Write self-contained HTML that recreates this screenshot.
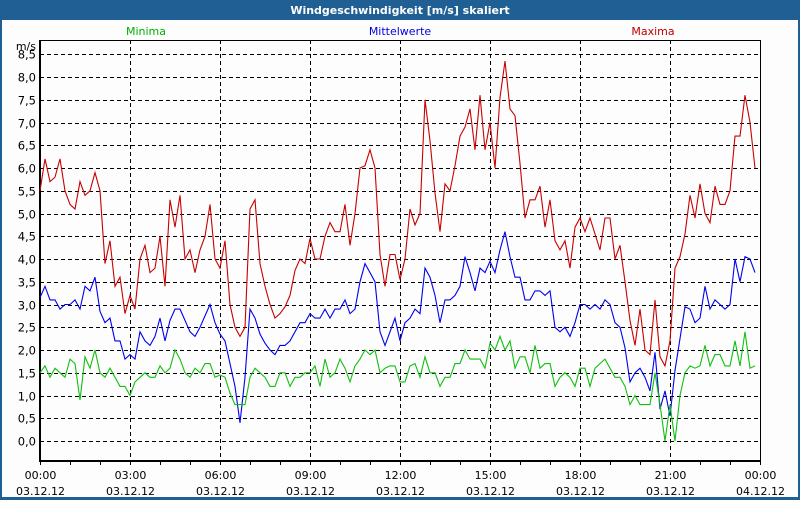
<!DOCTYPE html>
<html><head><meta charset="utf-8"><style>
body{margin:0;background:#fff;}
svg text{font-family:"DejaVu Sans","Liberation Sans",sans-serif;}
</style></head><body>
<svg id="chart" width="800" height="500" viewBox="0 0 800 500" xmlns="http://www.w3.org/2000/svg">
<rect x="0" y="0" width="800" height="500" fill="#1f5f94"/>
<rect x="2" y="20" width="796" height="477" fill="#fdfdfd"/>
<text x="400" y="14" text-anchor="middle" fill="#fff" font-size="11" font-weight="bold">Windgeschwindigkeit [m/s] skaliert</text>
<text x="146" y="35" text-anchor="middle" fill="#00b000" font-size="11">Minima</text>
<text x="400" y="35" text-anchor="middle" fill="#0000e0" font-size="11">Mittelwerte</text>
<text x="653" y="35" text-anchor="middle" fill="#c00000" font-size="11">Maxima</text>
<text x="36" y="50" text-anchor="end" fill="#000" font-size="11">m/s</text>
<g id="grid"></g>
<g id="axes"></g>
<g id="series"></g>
</svg>
<script>
const yTicks=["0,0","0,5","1,0","1,5","2,0","2,5","3,0","3,5","4,0","4,5","5,0","5,5","6,0","6,5","7,0","7,5","8,0","8,5"];
const xTickTimes=["00:00","03:00","06:00","09:00","12:00","15:00","18:00","21:00","00:00"];
const xTickDates=["03.12.12","03.12.12","03.12.12","03.12.12","03.12.12","03.12.12","03.12.12","03.12.12","04.12.12"];
const maxima=[5.5,6.2,5.7,5.8,6.2,5.5,5.2,5.1,5.7,5.4,5.5,5.9,5.5,3.9,4.4,3.4,3.6,2.8,3.2,2.9,4.0,4.3,3.7,3.8,4.5,3.4,5.3,4.7,5.4,4.0,4.2,3.7,4.2,4.5,5.2,4.0,3.8,4.4,3.0,2.5,2.3,2.5,5.1,5.3,3.9,3.4,3.0,2.7,2.8,2.95,3.2,3.75,4.0,3.9,4.45,4.0,4.0,4.5,4.8,4.6,4.6,5.2,4.3,5.0,6.0,6.05,6.4,6.0,4.1,3.4,4.1,4.1,3.55,4.0,5.1,4.75,5.0,7.5,6.6,5.45,4.6,5.65,5.5,6.05,6.7,6.9,7.3,6.4,7.6,6.4,7.0,6.0,7.55,8.35,7.3,7.15,6.1,4.9,5.3,5.3,5.6,4.7,5.3,4.4,4.2,4.4,3.8,4.7,4.9,4.6,4.9,4.55,4.2,4.9,4.9,4.0,4.3,3.5,2.65,2.1,2.9,2.0,1.9,3.1,1.85,1.65,2.2,3.8,4.05,4.55,5.4,4.9,5.65,5.0,4.8,5.6,5.2,5.2,5.5,6.7,6.7,7.6,7.0,6.0];
const mittel=[3.15,3.4,3.1,3.1,2.9,3.0,3.0,3.1,2.9,3.4,3.3,3.6,2.85,2.6,2.7,2.2,2.2,1.8,1.9,1.8,2.4,2.2,2.1,2.3,2.7,2.2,2.65,2.9,2.9,2.65,2.4,2.3,2.5,2.75,3.0,2.6,2.35,2.2,1.7,1.2,0.4,1.4,2.9,2.7,2.35,2.15,2.0,1.9,2.1,2.1,2.2,2.4,2.6,2.6,2.8,2.7,2.7,2.9,2.7,2.9,2.9,3.1,2.8,2.9,3.5,3.9,3.7,3.5,2.4,2.1,2.4,2.7,2.2,2.6,2.7,2.9,2.8,3.8,3.6,3.2,2.6,3.1,3.1,3.2,3.4,4.05,3.7,3.3,3.8,3.7,3.95,3.7,4.2,4.6,4.05,3.6,3.6,3.1,3.1,3.3,3.3,3.2,3.3,2.5,2.4,2.5,2.3,2.6,3.0,3.0,2.9,3.0,2.9,3.1,3.0,2.6,2.5,2.05,1.3,1.5,1.6,1.4,1.1,1.95,0.7,1.1,0.55,1.55,2.25,2.95,2.9,2.6,2.7,3.4,2.9,3.1,3.0,2.9,3.0,4.0,3.5,4.05,4.0,3.7];
const minima=[1.5,1.65,1.4,1.6,1.5,1.4,1.8,1.7,0.9,1.85,1.6,2.0,1.5,1.4,1.6,1.4,1.2,1.2,1.0,1.3,1.4,1.5,1.4,1.4,1.65,1.5,1.6,2.0,1.8,1.5,1.4,1.6,1.5,1.7,1.7,1.4,1.45,1.4,1.05,0.8,0.8,0.8,1.4,1.6,1.5,1.4,1.2,1.2,1.5,1.5,1.2,1.4,1.4,1.5,1.5,1.65,1.2,1.8,1.4,1.5,1.8,1.6,1.3,1.65,1.8,2.0,1.9,2.0,1.5,1.6,1.65,1.65,1.3,1.3,1.65,1.7,1.4,1.85,1.5,1.5,1.2,1.4,1.4,1.7,1.7,2.0,1.8,1.8,1.8,1.6,2.15,2.0,2.3,2.0,2.2,1.6,1.85,1.85,1.5,2.1,1.6,1.7,1.7,1.2,1.4,1.5,1.4,1.2,1.6,1.6,1.2,1.6,1.7,1.8,1.6,1.4,1.4,1.2,0.8,1.0,0.8,0.8,0.8,1.5,0.8,0.0,0.8,0.0,1.0,1.5,1.65,1.6,1.65,2.1,1.65,1.9,1.9,1.65,1.65,2.2,1.65,2.4,1.6,1.65];

const NS="http://www.w3.org/2000/svg";
const L=40,R=760,T=40,B=461;
const yZero=441,yPerUnit=45.5;
function yScale(v){return yZero-v*yPerUnit;}
function xScale(hours){return L+hours*30;}
function mk(tag,attrs,parent){const e=document.createElementNS(NS,tag);for(const k in attrs)e.setAttribute(k,attrs[k]);parent.appendChild(e);return e;}
const grid=document.getElementById('grid'),axes=document.getElementById('axes'),series=document.getElementById('series');

yTicks.forEach((lab,i)=>{
  const y=Math.round(yScale(i*0.5))+0.5;
  const g=mk('line',{x1:L,x2:R,y1:y,y2:y,stroke:'#000','stroke-width':1,'stroke-dasharray':'4,3'},grid);
  
  
  const t=mk('text',{x:36,y:y+4,'text-anchor':'end','font-size':11.5,fill:'#000'},axes);
  t.textContent=lab;
  
  
});
xTickTimes.forEach((lab,i)=>{
  const x=Math.round(xScale(i*3))+0.5;
  if(i>0&&i<xTickTimes.length-1){
    const g=mk('line',{x1:x,x2:x,y1:T,y2:B,stroke:'#000','stroke-width':1,'stroke-dasharray':'4,3'},grid);
    
    
  }
  const t1=mk('text',{x:x,y:479,'text-anchor':'middle','font-size':11,fill:'#000'},axes);
  t1.textContent=lab;
  
  
  const t2=mk('text',{x:x,y:495,'text-anchor':'middle','font-size':11,fill:'#000'},axes);
  t2.textContent=xTickDates[i];
  
  
});
for(let h=0;h<=24;h++){
  const x=Math.round(xScale(h))+0.5;
  const tk=mk('line',{x1:x,x2:x,y1:B,y2:B+4,stroke:'#000'},axes);
  
  
}
const box=mk('rect',{x:L+0.5,y:T+0.5,width:R-L,height:B-T,fill:'none',stroke:'#000','stroke-width':1},axes);


const leftAxis=mk('line',{x1:L,x2:L,y1:T,y2:B+1,stroke:'#000','stroke-width':2},axes);


const botAxis=mk('line',{x1:L,x2:R,y1:B,y2:B,stroke:'#000','stroke-width':2},axes);



function drawLine(arr,color,name){
  const pts=arr.map((v,i)=>xScale(i/6).toFixed(1)+','+yScale(v).toFixed(1)).join(' ');
  const p=mk('polyline',{points:pts,fill:'none',stroke:color,'stroke-width':1.1,'stroke-linejoin':'miter'},series);
  
  
}
drawLine(maxima,'#c80000','maxima-line');
drawLine(mittel,'#0000f0','mittelwerte-line');
drawLine(minima,'#10c010','minima-line');
</script>
</body></html>
